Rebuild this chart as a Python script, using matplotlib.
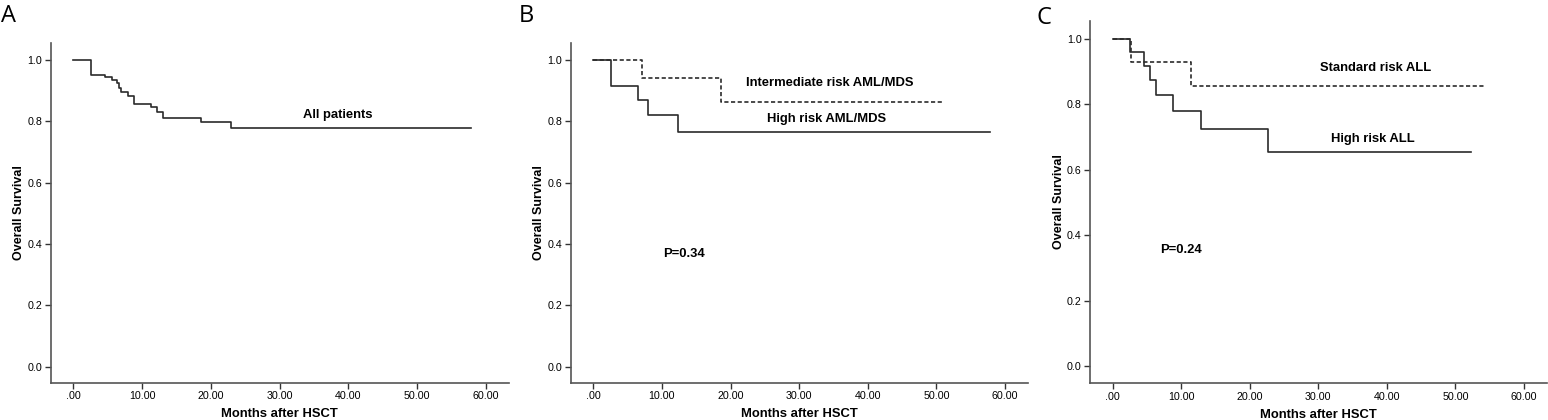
import numpy as np
import matplotlib
matplotlib.use('Agg')
import matplotlib.pyplot as plt

plt.rcParams['font.family'] = ['Liberation Sans', 'DejaVu Sans']

# panel A - all patients (step times in months, survival after each step)
a_tiempos = [0, 2.6, 4.6, 5.6, 6.4, 6.7, 7.0, 7.9, 8.8, 11.3, 12.1, 13.0, 18.6, 22.9]
a_surv = [1.0, 0.951, 0.943, 0.935, 0.924, 0.908, 0.895, 0.881, 0.857, 0.846, 0.831, 0.812, 0.796, 0.777]
a_fin = 57.8

# panel B - AML/MDS
b_alto_t = [0, 2.6, 6.5, 7.9, 12.4]
b_alto_s = [1.0, 0.916, 0.870, 0.821, 0.766]
b_alto_fin = 57.8
b_inter_t = [0, 7.1, 18.6]
b_inter_s = [1.0, 0.942, 0.864]
b_inter_fin = 50.9

# panel C - ALL
c_alto_t = [0, 2.6, 4.6, 5.5, 6.3, 8.8, 12.9, 22.7]
c_alto_s = [1.0, 0.959, 0.916, 0.875, 0.829, 0.781, 0.725, 0.653]
c_alto_fin = 52.3
c_std_t = [0, 2.7, 11.4]
c_std_s = [1.0, 0.929, 0.857]
c_std_fin = 54.4

x_ticks = [0, 10, 20, 30, 40, 50, 60]
x_labels = ['.00', '10.00', '20.00', '30.00', '40.00', '50.00', '60.00']
y_ticks = [0.0, 0.2, 0.4, 0.6, 0.8, 1.0]
y_labels = ['0.0', '0.2', '0.4', '0.6', '0.8', '1.0']

W, H = 1548, 420
fig = plt.figure(figsize=(W / 100, H / 100), dpi=100)

def caja(izq, der, arriba, abajo):
    return [izq / W, 1 - abajo / H, (der - izq) / W, (abajo - arriba) / H]

def escalon(ax, t, s, fin, estilo):
    xs = list(t) + [fin]
    ys = list(s) + [s[-1]]
    ax.step(xs, ys, where='post', color='#2b2b2b', lw=1.2, linestyle=estilo)

def preparar(ax):
    ax.set_xlim(-3.3, 63.4)
    ax.set_ylim(-0.053, 1.056)
    for lado in ['top', 'right']:
        ax.spines[lado].set_visible(False)
    for lado in ['left', 'bottom']:
        ax.spines[lado].set_color('#555555')
        ax.spines[lado].set_linewidth(1.2)
    ax.set_xticks(x_ticks)
    ax.set_xticklabels(x_labels)
    ax.set_yticks(y_ticks)
    ax.set_yticklabels(y_labels)
    ax.tick_params(direction='out', length=4, width=1, color='#333333',
                   labelsize=7.7, pad=2)
    ax.set_xlabel('Months after HSCT', fontsize=9.4, fontweight='bold', labelpad=5)
    ax.set_ylabel('Overall Survival', fontsize=9.0, fontweight='bold', labelpad=1.5)

ax1 = fig.add_axes(caja(50.7, 509, 42.7, 383))
ax2 = fig.add_axes(caja(570.7, 1028.3, 42.7, 383))
ax3 = fig.add_axes(caja(1090, 1547.3, 20.7, 383.3))

for ax in [ax1, ax2, ax3]:
    preparar(ax)

escalon(ax1, a_tiempos, a_surv, a_fin, '-')
ax1.text(38.5, 0.821, 'All patients', fontsize=9.4, fontweight='bold', ha='center', va='center')

escalon(ax2, b_inter_t, b_inter_s, b_inter_fin, (0, (2.5, 1.5)))
escalon(ax2, b_alto_t, b_alto_s, b_alto_fin, '-')
ax2.text(34.4, 0.926, 'Intermediate risk AML/MDS', fontsize=9.4, fontweight='bold', ha='center', va='center')
ax2.text(34.0, 0.807, 'High risk AML/MDS', fontsize=9.4, fontweight='bold', ha='center', va='center')
ax2.text(13.2, 0.367, 'P=0.34', fontsize=9.4, fontweight='bold', ha='center', va='center')

escalon(ax3, c_std_t, c_std_s, c_std_fin, (0, (2.5, 1.5)))
escalon(ax3, c_alto_t, c_alto_s, c_alto_fin, '-')
ax3.text(38.4, 0.912, 'Standard risk ALL', fontsize=9.4, fontweight='bold', ha='center', va='center')
ax3.text(38.0, 0.694, 'High risk ALL', fontsize=9.4, fontweight='bold', ha='center', va='center')
ax3.text(10.0, 0.354, 'P=0.24', fontsize=9.4, fontweight='bold', ha='center', va='center')

for letra, px, py in [('A', 1, 4), ('B', 519, 4), ('C', 1036, 6)]:
    fig.text(px / W, 1 - py / H, letra, fontsize=17, family='Open Sans',
             ha='left', va='top')

fig.savefig('out.png', dpi=100)
